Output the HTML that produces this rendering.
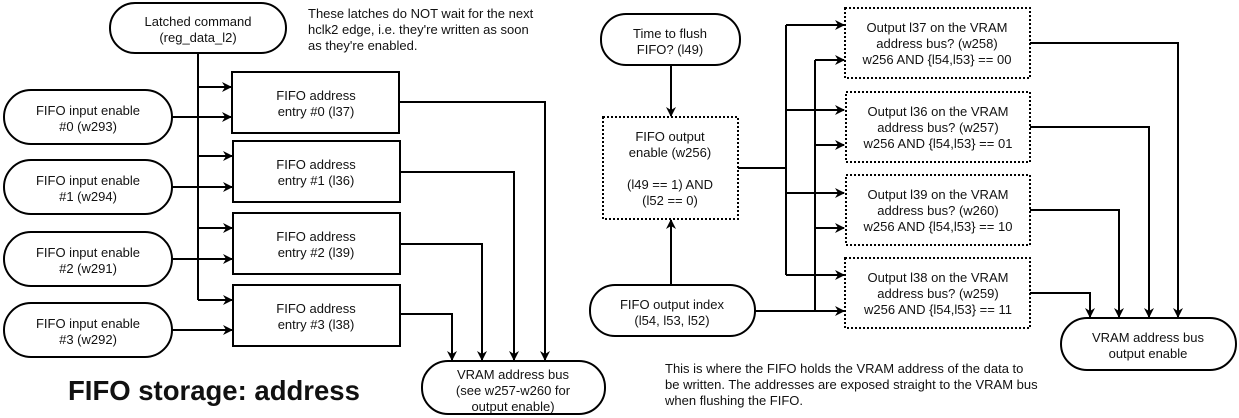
<!DOCTYPE html>
<html><head><meta charset="utf-8"><style>
html,body{margin:0;padding:0;background:#fff;}
svg{display:block;}
text{font-family:"Liberation Sans","DejaVu Sans",sans-serif;font-size:13px;fill:#111;}
</style></head><body>
<svg width="1239" height="418" viewBox="0 0 1239 418" xmlns="http://www.w3.org/2000/svg">
<defs>
<marker id="a" markerWidth="10" markerHeight="10" refX="9" refY="5" orient="auto" markerUnits="userSpaceOnUse">
<path d="M0,0 L10,5 L0,10 L3,5 Z" fill="#000"/>
</marker>
</defs>
<g fill="none" stroke="#000" stroke-width="2">
<rect x="110" y="3" width="176" height="50" rx="25"/>
<rect x="4" y="90" width="168" height="54" rx="27"/>
<rect x="4" y="160" width="168" height="54" rx="27"/>
<rect x="4" y="232" width="168" height="54" rx="27"/>
<rect x="4" y="303" width="168" height="54" rx="27"/>
<rect x="232" y="72" width="167" height="61"/>
<rect x="233" y="141" width="167" height="61"/>
<rect x="233" y="213" width="167" height="61"/>
<rect x="233" y="285" width="167" height="61"/>
<rect x="422" y="361" width="183" height="53" rx="26"/>
<path d="M198,53 V300"/>
<path d="M198,87 H231" marker-end="url(#a)"/>
<path d="M198,156 H232" marker-end="url(#a)"/>
<path d="M198,228 H232" marker-end="url(#a)"/>
<path d="M198,300 H232" marker-end="url(#a)"/>
<path d="M172,117 H231" marker-end="url(#a)"/>
<path d="M172,187 H232" marker-end="url(#a)"/>
<path d="M172,259 H232" marker-end="url(#a)"/>
<path d="M172,330 H232" marker-end="url(#a)"/>
<path d="M399,102 H545 V360" marker-end="url(#a)"/>
<path d="M400,172 H514 V360" marker-end="url(#a)"/>
<path d="M400,244 H482 V360" marker-end="url(#a)"/>
<path d="M400,314 H452 V360" marker-end="url(#a)"/>
<rect x="601" y="14" width="139" height="51" rx="25"/>
<rect x="590" y="285" width="165" height="51" rx="25"/>
<rect x="1061" y="318" width="175" height="52" rx="26"/>
<path d="M671,65 V116" marker-end="url(#a)"/>
<path d="M671,285 V220" marker-end="url(#a)"/>
<path d="M738,168 H786"/>
<path d="M786,25 V275"/>
<path d="M786,25 H844" marker-end="url(#a)"/>
<path d="M786,110 H844" marker-end="url(#a)"/>
<path d="M786,193 H844" marker-end="url(#a)"/>
<path d="M786,275 H844" marker-end="url(#a)"/>
<path d="M755,311 H844" marker-end="url(#a)"/>
<path d="M815,60 V311"/>
<path d="M815,60 H844" marker-end="url(#a)"/>
<path d="M815,145 H844" marker-end="url(#a)"/>
<path d="M815,228 H844" marker-end="url(#a)"/>
<path d="M1030,43 H1178 V317" marker-end="url(#a)"/>
<path d="M1030,127 H1149 V317" marker-end="url(#a)"/>
<path d="M1030,210 H1119 V317" marker-end="url(#a)"/>
<path d="M1030,293 H1090 V317" marker-end="url(#a)"/>
</g>
<g fill="none" stroke="#000" stroke-width="2" stroke-dasharray="2,2">
<rect x="603" y="117" width="135" height="102"/>
<rect x="845" y="8" width="185" height="70"/>
<rect x="846" y="92" width="184" height="70"/>
<rect x="846" y="175" width="184" height="70"/>
<rect x="845" y="258" width="185" height="70"/>
</g>
<g text-anchor="middle">
<text x="198" y="26">Latched command</text><text x="198" y="42">(reg_data_l2)</text>
<text x="88" y="115">FIFO input enable</text><text x="88" y="131">#0 (w293)</text>
<text x="88" y="185">FIFO input enable</text><text x="88" y="201">#1 (w294)</text>
<text x="88" y="257">FIFO input enable</text><text x="88" y="273">#2 (w291)</text>
<text x="88" y="328">FIFO input enable</text><text x="88" y="344">#3 (w292)</text>
<text x="316" y="100">FIFO address</text><text x="316" y="116">entry #0 (l37)</text>
<text x="316" y="169">FIFO address</text><text x="316" y="185">entry #1 (l36)</text>
<text x="316" y="241">FIFO address</text><text x="316" y="257">entry #2 (l39)</text>
<text x="316" y="313">FIFO address</text><text x="316" y="329">entry #3 (l38)</text>
<text x="513" y="379">VRAM address bus</text><text x="513" y="395">(see w257-w260 for</text><text x="513" y="411">output enable)</text>
<text x="670" y="38">Time to flush</text><text x="670" y="54">FIFO? (l49)</text>
<text x="670" y="141">FIFO output</text><text x="670" y="157">enable (w256)</text>
<text x="670" y="189">(l49 == 1) AND</text><text x="670" y="205">(l52 == 0)</text>
<text x="672" y="309">FIFO output index</text><text x="672" y="325">(l54, l53, l52)</text>
<text x="937" y="32">Output l37 on the VRAM</text><text x="937" y="48">address bus? (w258)</text><text x="937" y="64">w256 AND {l54,l53} == 00</text>
<text x="938" y="116">Output l36 on the VRAM</text><text x="938" y="132">address bus? (w257)</text><text x="938" y="148">w256 AND {l54,l53} == 01</text>
<text x="938" y="199">Output l39 on the VRAM</text><text x="938" y="215">address bus? (w260)</text><text x="938" y="231">w256 AND {l54,l53} == 10</text>
<text x="938" y="282">Output l38 on the VRAM</text><text x="938" y="298">address bus? (w259)</text><text x="938" y="314">w256 AND {l54,l53} == 11</text>
<text x="1148" y="342">VRAM address bus</text><text x="1148" y="358">output enable</text>
</g>
<text x="308" y="18">These latches do NOT wait for the next</text>
<text x="308" y="34">hclk2 edge, i.e. they're written as soon</text>
<text x="308" y="50">as they're enabled.</text>
<text x="665" y="373">This is where the FIFO holds the VRAM address of the data to</text>
<text x="665" y="389">be written. The addresses are exposed straight to the VRAM bus</text>
<text x="665" y="405">when flushing the FIFO.</text>
<text x="68" y="400" style="font-size:27.5px;font-weight:bold;">FIFO storage: address</text>
</svg>
</body></html>
